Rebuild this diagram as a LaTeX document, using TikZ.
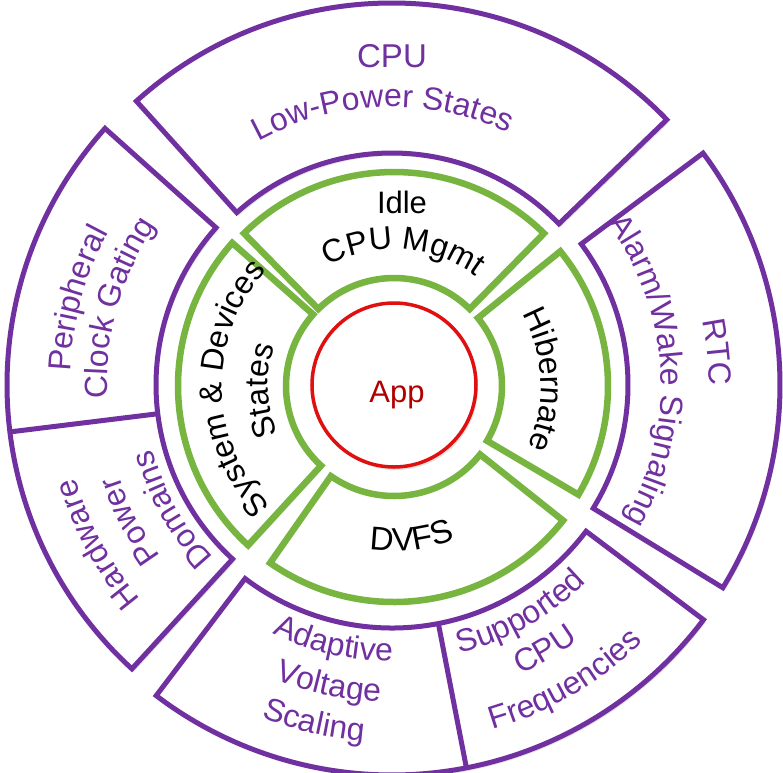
\documentclass[tikz,border=0pt]{standalone}
\usepackage{fontspec}
\setmainfont{Liberation Sans}
\usetikzlibrary{decorations.text,shadows}
\definecolor{pur}{HTML}{7030A0}
\definecolor{grn}{HTML}{77B540}
\definecolor{appred}{HTML}{E01010}
\definecolor{apptxt}{HTML}{B00000}
\newcommand\cwlabel[5]{%
  \path[decorate,decoration={text along path,text align=center,text color=#1,
    text={|\fontsize{#2}{#2}\selectfont|#5}}]
    ({#3+60}:#4pt) arc[start angle={#3+60},end angle={#3-60},radius=#4pt];}
\newcommand\ccwlabel[5]{%
  \path[decorate,decoration={text along path,text align=center,text color=#1,
    text={|\fontsize{#2}{#2}\selectfont|#5}}]
    ({#3-60}:#4pt) arc[start angle={#3-60},end angle={#3+60},radius=#4pt];}
\newcommand\ringsec[5]{%
  \draw[#1] ({#2}:#5pt) arc[start angle={#2},end angle={#3},radius=#5pt]
    -- ({#3}:#4pt) arc[start angle={#3},end angle={#2},radius=#4pt] -- cycle;}
\begin{document}
\begin{tikzpicture}[x=1pt,y=1pt,
  shd/.style={drop shadow={shadow xshift=2pt,shadow yshift=-3pt,opacity=0.22}},
  purseg/.style={draw=pur,line width=5pt,fill=white,line join=miter,shd},
  grnseg/.style={draw=grn,line width=6.5pt,fill=white,line join=miter,shd},
  purline/.style={draw=pur,line width=5pt}]
\useasboundingbox (-392,-387) rectangle (391,385);
\fill[white] (-392,-387) rectangle (391,385);
% outer purple ring
\ringsec{purseg}{44}{132}{232}{382}
\ringsec{purseg}{-31.5}{36.7}{236}{388}
\ringsec{purseg}{138.2}{227.5}{236}{385}
\draw[purline] (187:236pt) -- (187:385pt);
\ringsec{purseg}{232.8}{323}{243}{390}
\draw[purline] (281:243pt) -- (281:390pt);
% purple labels
\node[anchor=base,text=pur,font=\fontsize{33}{33}\selectfont] (cpuT) at (0,318) {CPU};
\cwlabel{pur}{32}{92}{278}{Low-Power States}
\cwlabel{pur}{32}{164.7}{322}{Peripheral}
\cwlabel{pur}{32}{164.3}{285}{Clock Gating}
\cwlabel{pur}{32}{208.4}{330}{Hardware}
\cwlabel{pur}{32}{207.4}{288}{Power}
\cwlabel{pur}{32}{209.5}{248}{Domains}
\ccwlabel{pur}{32}{257.2}{276}{Adaptive}
\ccwlabel{pur}{32}{258.1}{317}{Voltage}
\ccwlabel{pur}{32}{257}{357}{Scaling}
\ccwlabel{pur}{32}{299.4}{277}{Supported}
\ccwlabel{pur}{32}{300}{316}{CPU}
\ccwlabel{pur}{32}{300.3}{359}{Frequencies}
\cwlabel{pur}{32}{5.8}{317}{RTC}
\cwlabel{pur}{32}{3.4}{269}{Alarm/Wake Signaling}
% inner green ring
\begin{scope}[shift={(2,-1)}]
\ringsec{grnseg}{45.5}{134.5}{108}{214}
\ringsec{grnseg}{138.5}{227.5}{108}{216}
\ringsec{grnseg}{235}{321.5}{110}{216}
\ringsec{grnseg}{-30.5}{39}{108}{214}
\node[circle,draw=appred,line width=3.5pt,fill=white,minimum size=164pt,inner sep=0pt,shd] (appC) at (0,1) {};
\node[anchor=base,font=\fontsize{31}{31}\selectfont] (idleT) at (8,173) {Idle};
\cwlabel{black}{32}{86}{137}{CPU Mgmt}
\cwlabel{black}{32}{2.5}{147}{Hibernate}
\ccwlabel{black}{33}{-83.4}{165}{DVFS}
\cwlabel{black}{32}{181}{172}{System {\&} Devices}
\cwlabel{black}{32}{182}{126}{States}
\end{scope}
\node[anchor=base,text=apptxt,font=\fontsize{31}{31}\selectfont] (appT) at (5,-17) {App};
\end{tikzpicture}
\end{document}
